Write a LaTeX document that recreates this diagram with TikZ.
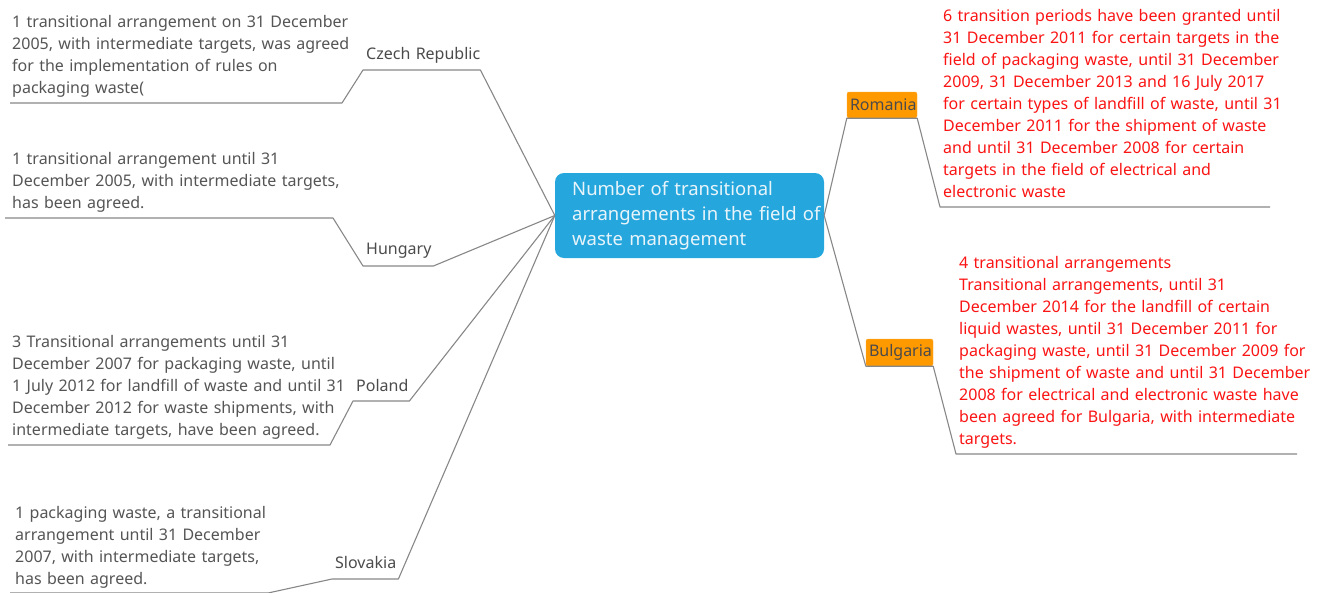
\documentclass[tikz,border=0pt]{standalone}
\usepackage{fontspec}
\setmainfont{Noto Sans}
\definecolor{rootblue}{RGB}{37,167,222}
\definecolor{roottext}{RGB}{232,244,250}
\definecolor{boxorange}{RGB}{255,153,0}
\definecolor{linegray}{RGB}{135,135,135}
\definecolor{descgray}{RGB}{85,85,85}
\definecolor{labelgray}{RGB}{75,75,75}
\definecolor{descred}{RGB}{250,20,20}
\begin{document}
\begin{tikzpicture}[x=1pt,y=-1pt,
  conn/.style={draw=linegray, line width=1.1pt, line join=round},
  desc/.style={anchor=base west, inner sep=0pt, text width=380pt, align=left,
    font=\fontsize{16}{22}\selectfont, text=descgray},
  reddesc/.style={desc, text=descred},
  country/.style={anchor=south west, inner xsep=3pt, inner ysep=0pt, text depth=10pt,
    align=left, font=\fontsize{16}{22}\selectfont, text=labelgray},
  obox/.style={fill=boxorange, draw=boxorange!80!white, rounded corners=2pt, inner xsep=3pt,
    align=center, font=\fontsize{16}{22}\selectfont, text=labelgray},
  rootbox/.style={fill=rootblue, rounded corners=9pt, minimum width=269pt, minimum height=85pt, inner sep=0pt},
  rtext/.style={anchor=base west, inner sep=0pt, text width=280pt, align=left,
    font=\fontsize{18.5}{25}\selectfont, text=roottext}
]
\useasboundingbox (0,0) rectangle (1322,592);

% root
\node[rootbox] (root) at (689.5,215.5) {};
\node[rtext] (roottxt) at (572,195) {Number of transitional\\arrangements in the field of\\waste management};

% country labels (underlined by their south side)
\node[country, text width=111pt] (czech) at (363,70) {\mbox{Czech Republic}};
\node[country, text width=64pt, text depth=11pt] (hungary) at (363,266) {\mbox{Hungary}};
\node[country, text width=50pt, text depth=9pt] (poland) at (353,401) {\mbox{Poland}};
\node[country, text width=60pt] (slovakia) at (332,579) {\mbox{Slovakia}};

\node[obox, text width=64pt, minimum height=26pt] (romania) at (882,105) {\mbox{Romania}};
\node[obox, text width=61pt, minimum height=27pt] (bulgaria) at (899.5,352.5) {\mbox{Bulgaria}};

% descriptions
\node[desc] (czdesc) at (12,27) {1 transitional arrangement on 31 December\\2005, with intermediate targets, was agreed\\for the implementation of rules on\\packaging waste(};
\node[desc] (hudesc) at (12,164) {1 transitional arrangement until 31\\December 2005, with intermediate targets,\\has been agreed.};
\node[desc] (pldesc) at (12,347) {3 Transitional arrangements until 31\\December 2007 for packaging waste, until\\1 July 2012 for landfill of waste and until 31\\December 2012 for waste shipments, with\\intermediate targets, have been agreed.};
\node[desc] (skdesc) at (15,518) {1 packaging waste, a transitional\\arrangement until 31 December\\2007, with intermediate targets,\\has been agreed.};
\node[reddesc] (rodesc) at (943,21) {6 transition periods have been granted until\\31 December 2011 for certain targets in the\\field of packaging waste, until 31 December\\2009, 31 December 2013 and 16 July 2017\\for certain types of landfill of waste, until 31\\December 2011 for the shipment of waste\\and until 31 December 2008 for certain\\targets in the field of electrical and\\electronic waste};
\node[reddesc] (bgdesc) at (959,268) {4 transitional arrangements\\Transitional arrangements, until 31\\December 2014 for the landfill of certain\\liquid wastes, until 31 December 2011 for\\packaging waste, until 31 December 2009 for\\the shipment of waste and until 31 December\\2008 for electrical and electronic waste have\\been agreed for Bulgaria, with intermediate\\targets.};

% bend and end points of the description underlines
\coordinate (czbend) at (342,103); \coordinate (czend) at (10,103);
\coordinate (hubend) at (333,218); \coordinate (huend) at (5,218);
\coordinate (plbend) at (330,445); \coordinate (plend) at (8,445);
\coordinate (skbend) at (268,593); \coordinate (skend) at (10,593);
\coordinate (robend) at (940,207); \coordinate (roend) at (1270,207);
\coordinate (bgbend) at (956,454); \coordinate (bgend) at (1297,454);

% connectors
\draw[conn] (root.west) -- (czech.south east) -- (czech.south west) -- (czbend) -- (czend);
\draw[conn] (root.west) -- (hungary.south east) -- (hungary.south west) -- (hubend) -- (huend);
\draw[conn] (root.west) -- (poland.south east) -- (poland.south west) -- (plbend) -- (plend);
\draw[conn] (root.west) -- (slovakia.south east) -- (slovakia.south west) -- (skbend) -- (skend);
\draw[conn] (root.east) -- (romania.south west) -- (romania.south east) -- (robend) -- (roend);
\draw[conn] (root.east) -- (bulgaria.south west) -- (bulgaria.south east) -- (bgbend) -- (bgend);
\end{tikzpicture}
\end{document}
